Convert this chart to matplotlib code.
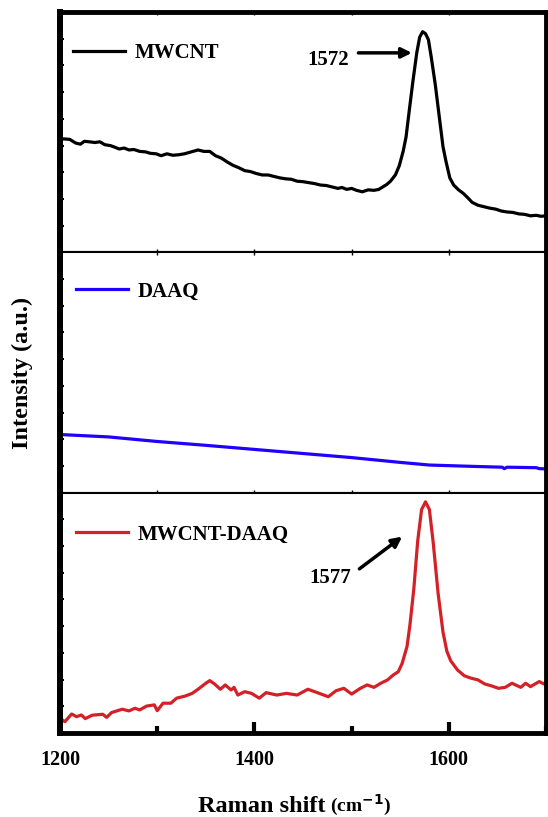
import numpy as np
import matplotlib.pyplot as plt
from matplotlib.ticker import MultipleLocator

plt.rcParams['font.family'] = ['Liberation Serif', 'DejaVu Serif']
plt.rcParams['font.weight'] = 'bold'

# Raman spectra (normalised intensity, a.u.)
mwcnt_shift = [1200, 1204, 1210, 1216, 1221, 1225, 1230, 1236, 1241, 1246, 1252, 1256, 1261, 1266,
               1271, 1276, 1282, 1288, 1293, 1299, 1304, 1310, 1316, 1322, 1328, 1335, 1342, 1348,
               1354, 1360, 1366, 1372, 1378, 1384, 1390, 1396, 1402, 1408, 1414, 1420, 1426, 1432,
               1438, 1444, 1450, 1456, 1462, 1468, 1474, 1480, 1486, 1490, 1495, 1500, 1505, 1511,
               1517, 1523, 1528, 1532, 1536, 1540, 1545, 1549, 1553, 1556, 1559, 1563, 1567, 1570,
               1573, 1576, 1579, 1582, 1586, 1590, 1594, 1597, 1601, 1605, 1610, 1615, 1620, 1624,
               1630, 1636, 1642, 1648, 1654, 1660, 1666, 1672, 1678, 1684, 1690, 1695, 1700]
mwcnt_int = [0.470, 0.472, 0.470, 0.455, 0.450, 0.462, 0.460, 0.457, 0.460, 0.448, 0.444, 0.438,
             0.430, 0.434, 0.426, 0.428, 0.420, 0.418, 0.412, 0.410, 0.402, 0.410, 0.404, 0.406,
             0.410, 0.418, 0.426, 0.420, 0.420, 0.402, 0.392, 0.376, 0.362, 0.352, 0.340, 0.336,
             0.328, 0.322, 0.322, 0.316, 0.310, 0.306, 0.304, 0.296, 0.294, 0.290, 0.286, 0.280,
             0.278, 0.272, 0.266, 0.270, 0.262, 0.266, 0.258, 0.252, 0.260, 0.258, 0.262, 0.272,
             0.282, 0.296, 0.322, 0.360, 0.420, 0.480, 0.580, 0.710, 0.830, 0.895, 0.918, 0.910,
             0.885, 0.810, 0.700, 0.570, 0.440, 0.380, 0.310, 0.280, 0.260, 0.245, 0.225, 0.208,
             0.196, 0.190, 0.184, 0.180, 0.172, 0.168, 0.166, 0.160, 0.158, 0.152, 0.154, 0.150,
             0.152]

daaq_shift = [1200, 1250, 1300, 1350, 1400, 1450, 1500, 1550, 1580, 1620, 1655, 1657, 1660,
              1690, 1693, 1700]
daaq_int = [0.242, 0.232, 0.213, 0.197, 0.180, 0.163, 0.146, 0.126, 0.115, 0.110, 0.106,
            0.100, 0.106, 0.104, 0.100, 0.099]

comp_shift = [1200, 1205, 1212, 1217, 1222, 1226, 1233, 1244, 1248, 1253, 1264, 1271, 1277,
              1282, 1289, 1297, 1300, 1306, 1314, 1320, 1329, 1336, 1342, 1350, 1354, 1359,
              1365, 1370, 1376, 1379, 1383, 1390, 1397, 1405, 1412, 1423, 1433, 1444, 1455,
              1462, 1476, 1484, 1492, 1500, 1509, 1516, 1523, 1530, 1537, 1543, 1548, 1552,
              1557, 1560, 1564, 1568, 1572, 1576, 1580, 1584, 1589, 1594, 1598, 1602, 1609,
              1616, 1623, 1630, 1637, 1644, 1651, 1658, 1665, 1674, 1679, 1684, 1693, 1700]
comp_int = [0.061, 0.047, 0.079, 0.068, 0.075, 0.060, 0.074, 0.078, 0.065, 0.085, 0.099, 0.092,
            0.103, 0.096, 0.112, 0.117, 0.093, 0.124, 0.124, 0.145, 0.154, 0.165, 0.182, 0.207,
            0.218, 0.204, 0.182, 0.200, 0.179, 0.190, 0.158, 0.172, 0.165, 0.145, 0.168, 0.158,
            0.165, 0.158, 0.182, 0.172, 0.151, 0.176, 0.186, 0.162, 0.186, 0.200, 0.190, 0.207,
            0.221, 0.242, 0.255, 0.290, 0.360, 0.450, 0.600, 0.800, 0.930, 0.962, 0.930, 0.790,
            0.580, 0.420, 0.340, 0.300, 0.262, 0.238, 0.228, 0.221, 0.204, 0.196, 0.186, 0.190,
            0.207, 0.190, 0.207, 0.193, 0.214, 0.200]

labels = ['MWCNT', 'DAAQ', 'MWCNT-DAAQ']
colors = ['black', '#2200ff', '#d42027']

fig, axes = plt.subplots(3, 1, sharex=True, figsize=(5.48, 8.17), dpi=100,
                         gridspec_kw={'hspace': 0})
fig.subplots_adjust(left=0.1095, right=0.9964, top=0.9853, bottom=0.1028)

series = [(mwcnt_shift, mwcnt_int), (daaq_shift, daaq_int), (comp_shift, comp_int)]
leg_pos = [(0.027, 0.83), (0.033, 0.8375), (0.033, 0.825)]

for i, ax in enumerate(axes):
    x, y = series[i]
    ax.plot(x, y, color=colors[i], lw=2.3, label=labels[i])
    ax.set_xlim(1200, 1700)
    ax.set_ylim(0, 1)
    ax.set_yticks(np.arange(0, 1.0, 1 / 9))
    ax.set_yticklabels([])
    ax.tick_params(axis='y', direction='in', length=3, width=1.5, right=False)
    ax.spines['left'].set_linewidth(4.3)
    ax.spines['right'].set_linewidth(3.5)
    ax.spines['top'].set_linewidth(1.5)
    ax.spines['bottom'].set_linewidth(1.5)
    leg = ax.legend(loc='center left', bbox_to_anchor=leg_pos[i], frameon=False,
                    fontsize=15, handlelength=2.5, handletextpad=0.45,
                    borderpad=0, borderaxespad=0)

axes[0].spines['top'].set_linewidth(3.5)
axes[2].spines['bottom'].set_linewidth(3.5)

axes[2].xaxis.set_major_locator(MultipleLocator(200))
axes[2].xaxis.set_minor_locator(MultipleLocator(100))
for ax in axes[:2]:
    ax.tick_params(axis='x', which='both', direction='in', length=2, width=1,
                   top=True, bottom=True, labelbottom=False)
axes[2].tick_params(axis='x', which='major', direction='in', length=8, width=3,
                    top=False, pad=12, labelsize=14.5)
axes[2].tick_params(axis='x', which='minor', direction='in', length=5, width=3, top=False)
axes[2].set_xticks([1200, 1400, 1600])
axes[2].set_xticklabels(['1200', '1400', '1600'])

# peak annotations
arrow = dict(arrowstyle='-|>,head_length=0.6,head_width=0.3', lw=2.5, color='black',
             shrinkA=0, shrinkB=0)
axes[0].text(1476, 0.80, '1572', fontsize=15, ha='center', va='center')
axes[0].annotate('', xy=(1562, 0.83), xytext=(1507, 0.83), arrowprops=arrow)
axes[2].text(1478, 0.646, '1577', fontsize=15, ha='center', va='center')
axes[2].annotate('', xy=(1552, 0.817), xytext=(1508, 0.683), arrowprops=arrow)

fig.text(22 / 548, 1 - 373 / 817, 'Intensity (a.u.)', rotation=90, ha='center', va='center',
         fontsize=17.5)
fig.text(326 / 548, 5 / 817, 'Raman shift', ha='right', va='baseline', fontsize=17.5)
fig.text(330 / 548, 5 / 817, '(cm$^{\\mathbf{-1}}$)', ha='left', va='baseline', fontsize=14)

plt.savefig('out.png', dpi=100)
